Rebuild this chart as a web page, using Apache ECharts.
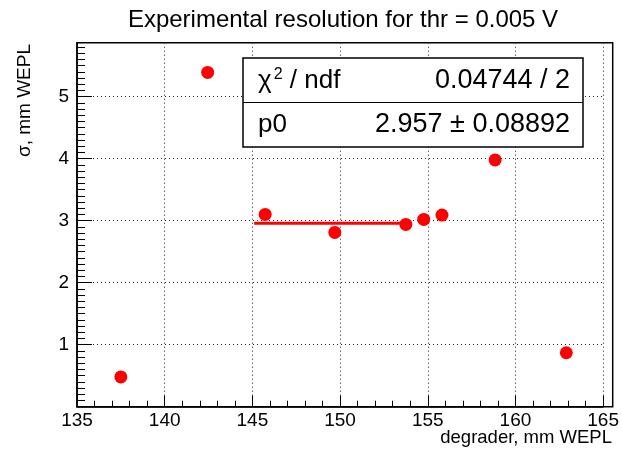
<!DOCTYPE html>
<html>
<head>
<meta charset="utf-8">
<script src="https://cdn.jsdelivr.net/npm/echarts@6/dist/echarts.min.js"></script>
<style>
  html, body { margin: 0; padding: 0; background: #fff; }
  #main { width: 622px; height: 453px; }
</style>
</head>
<body>
<div id="main"></div>
<script>
// measured points (degrader thickness vs resolution)
var degrader = [137.5, 142.45, 145.73, 149.7, 153.75, 154.77, 155.81, 158.84, 162.9];
var sigma = [0.48, 5.39, 3.10, 2.81, 2.94, 3.02, 3.09, 3.98, 0.87];

// constant fit p0 over the fit range
var fitRange = [145.1, 153.75];
var fitP0 = 2.957;

// stat box texts
var statNames = ['{c|χ}{s|2}{c| / ndf}', 'p0'];
var statValues = ['0.04744 / 2', '2.957 ± 0.08892'];

var xTicks = [135, 165, 5];
var yRange = [0, 5.87, 1];

var font = 'Liberation Sans, Arial, Helvetica, sans-serif';

var myChart = echarts.init(document.getElementById('main'));

var pts = [];
for (var i = 0; i < degrader.length; i++) {
    pts.push([degrader[i], sigma[i]]);
}
var fitLine = [[fitRange[0], fitP0], [fitRange[1], fitP0]];

var gridLine = {show: true, lineStyle: {color: '#222', type: [1, 3], width: 1}};

option = {
    backgroundColor: '#fff',
    animation: false,
    grid: {left: 77, right: 16.3, top: 42.7, bottom: 46.3},
    xAxis: {
        type: 'value',
        min: xTicks[0],
        max: xTicks[1],
        interval: xTicks[2],
        axisLine: {show: true, lineStyle: {color: '#000', width: 1.5}},
        axisTick: {show: true, inside: true, length: 11, lineStyle: {color: '#000'}},
        minorTick: {show: true, splitNumber: 5, length: 6, lineStyle: {color: '#000'}},
        axisLabel: {color: '#000', fontSize: 19, fontFamily: font, margin: 5},
        splitLine: gridLine
    },
    yAxis: {
        type: 'value',
        min: yRange[0],
        max: yRange[1],
        interval: yRange[2],
        axisLine: {show: true, lineStyle: {color: '#000', width: 1.5}},
        axisTick: {show: true, inside: true, length: 15, lineStyle: {color: '#000'}},
        minorTick: {show: true, splitNumber: 10, length: 8, lineStyle: {color: '#000'}},
        axisLabel: {color: '#000', fontSize: 19, fontFamily: font, margin: 8,
            showMinLabel: false, showMaxLabel: false},
        splitLine: gridLine
    },
    series: [
        {
            type: 'line',
            data: fitLine,
            symbol: 'none',
            lineStyle: {color: '#ff0000', width: 3},
            z: 3
        },
        {
            type: 'scatter',
            data: pts,
            symbol: 'circle',
            symbolSize: 13,
            itemStyle: {color: '#ff0000', opacity: 1},
            z: 4
        }
    ],
    graphic: [
        // frame
        {type: 'rect', shape: {x: 77, y: 42.7, width: 535.7, height: 364},
            style: {fill: 'none', stroke: '#000', lineWidth: 1.5}, z: 10, silent: true},
        // title
        {type: 'text', x: 343, y: 20, z: 10,
            style: {text: 'Experimental resolution for thr = 0.005 V', fill: '#000',
                font: '24px ' + font, align: 'center', verticalAlign: 'middle'}},
        // axis titles
        {type: 'text', x: 612, y: 438, z: 10,
            style: {text: 'degrader, mm WEPL', fill: '#000',
                font: '18.5px ' + font, align: 'right', verticalAlign: 'middle'}},
        {type: 'text', x: 25, y: 44, rotation: Math.PI / 2, z: 10,
            style: {text: 'σ, mm WEPL', fill: '#000',
                font: '19px ' + font, align: 'right', verticalAlign: 'middle'}},
        // stats box
        {type: 'rect', shape: {x: 243, y: 58, width: 340, height: 89},
            style: {fill: '#fff', stroke: '#000', lineWidth: 1.5}, z: 20},
        {type: 'line', shape: {x1: 243, y1: 102.5, x2: 583, y2: 102.5},
            style: {stroke: '#000', lineWidth: 1}, z: 21},
        {type: 'text', x: 258, y: 81, z: 22,
            style: {text: statNames[0], fill: '#000', verticalAlign: 'middle', align: 'left',
                rich: {
                    c: {fontSize: 26, fontFamily: font, fill: '#000'},
                    s: {fontSize: 16, fontFamily: font, fill: '#000', verticalAlign: 'top', padding: [0, 0, 12, 2]}
                }}},
        {type: 'text', x: 258, y: 125, z: 22,
            style: {text: statNames[1], fill: '#000', font: '26px ' + font,
                align: 'left', verticalAlign: 'middle'}},
        {type: 'text', x: 570, y: 81, z: 22,
            style: {text: statValues[0], fill: '#000', font: '27px ' + font,
                align: 'right', verticalAlign: 'middle'}},
        {type: 'text', x: 570, y: 125, z: 22,
            style: {text: statValues[1], fill: '#000', font: '27px ' + font,
                align: 'right', verticalAlign: 'middle'}}
    ]
};

myChart.setOption(option);
</script>
</body>
</html>
